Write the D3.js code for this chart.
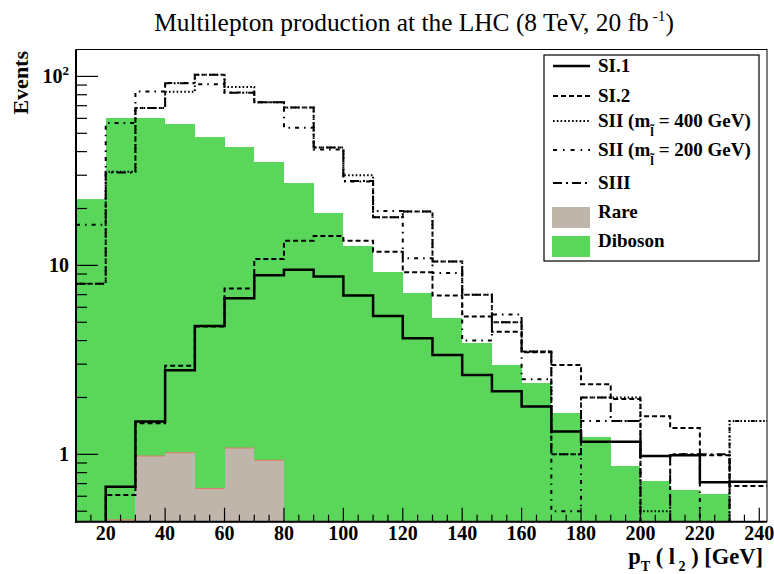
<!DOCTYPE html>
<html><head><meta charset="utf-8">
<script src="https://cdn.jsdelivr.net/npm/d3@7"></script>
<style>body{margin:0;background:#fff;} text{font-family:"Liberation Serif","Times New Roman",serif;}</style>
</head><body>
<script>
// ---- data ----
const binEdges = [10,20,30,40,50,60,70,80,90,100,110,120,130,140,150,160,170,180,190,200,210,220,230,240];
const diboson = [22.5,60.6,60.6,56.2,48,42.4,35.3,27.4,19.0,12.7,9.27,7.18,5.29,3.87,2.97,2.38,1.65,1.24,0.867,0.722,0.647,0.616,0];
const rare    = [0,0.45,0.98,1.02,0.66,1.08,0.93,0,0,0,0,0,0,0,0,0,0,0,0,0,0,0,0];
const si1     = [0,0.674,1.49,2.79,4.78,6.70,8.87,9.47,8.73,6.92,5.40,4.11,3.36,2.63,2.16,1.79,1.32,1.166,1.166,0.98,0.99,0.711,0.716];
const si2     = [0,0.609,1.46,2.94,4.75,7.54,10.8,13.5,14.3,13.5,11.8,9.2,6.92,5.36,4.46,3.47,2.97,2.35,1.96,1.59,1.38,0.99,0.68];
const sii400  = [8.0,31.3,68,83,102,88,73,68.5,42,30,18,19.3,10.5,7.0,5.0,3.5,1.0,2.0,2.0,0.5,0,0,1.5];
const sii200  = [16.4,56.7,83.3,92.3,91,82.3,73,53.5,41,27.8,19.4,10.9,9.1,4.0,5.5,2.5,0.5,1.5,1.5,0,1.0,0,1.5];
const siii    = [8.0,31,68,92,102,82,73,68.5,42,28,18,19.3,10.5,7.0,5.0,3.5,1.0,2.0,1.5,0,1.0,1.0,0];
const xMajorTicks = [20,40,60,80,100,120,140,160,180,200,220,240];
const yMajorTicks = [1,10,100];
const legendLabels = ["SI.1","SI.2","SII (m","SII (m","SIII","Rare","Diboson"];
const legendMass = [null,null,"400","200",null,null,null];

// ---- layout ----
const W=774,H=574;
const L=76,R=767,T=50,B=521.7;
const svg=d3.select("body").append("svg").attr("width",W).attr("height",H);
const x=d3.scaleLinear().domain([10,242.6]).range([L,R]);
const y=d3.scaleLog().domain([0.44,138]).range([B,T]);
const green="#5ad65a", rareCol="#bfb5ab";

svg.append("clipPath").attr("id","plot").append("rect").attr("x",L).attr("y",T).attr("width",R-L).attr("height",B-T);
const g=svg.append("g").attr("clip-path","url(#plot)");

const binX0=i=>x(binEdges[i]);
const binX1=i=>i===binEdges.length-2? R+3 : x(binEdges[i+1]);
const yv=v=>v>0? Math.min(y(v),B+6):B+6;

function drawFill(vals,col,edge){
  g.selectAll(null).data(vals).enter().append("rect")
   .attr("x",(d,i)=>binX0(i)).attr("width",(d,i)=>binX1(i)-binX0(i))
   .attr("y",d=>yv(d)).attr("height",d=>Math.max(0,B+6-yv(d)))
   .attr("fill",col).attr("shape-rendering","crispEdges");
  if(edge){
    g.selectAll(null).data(vals.map((v,i)=>[v,i]).filter(d=>d[0]>0)).enter().append("line")
     .attr("x1",d=>binX0(d[1])).attr("x2",d=>binX1(d[1]))
     .attr("y1",d=>yv(d[0])).attr("y2",d=>yv(d[0])).attr("stroke",edge).attr("stroke-width",1);
  }
}
drawFill(diboson,green,null);
drawFill(rare,rareCol,"#e07a6a");

function stepPath(vals){
  let p="";
  vals.forEach((v,i)=>{
    const yy=yv(v);
    p+=(i===0?"M":"L")+binX0(i)+","+yy+"L"+binX1(i)+","+yy;
  });
  return p;
}
const lineSeries=[
  {vals:sii400,dash:"1.6,2.2",w:2},
  {vals:siii,dash:"9,4,2,4",w:2},
  {vals:sii200,dash:"4,5,1.6,5",w:2},
  {vals:si2,dash:"5,3",w:2},
  {vals:si1,dash:null,w:2.5}
];
lineSeries.forEach(s=>{
  g.append("path").attr("d",stepPath(s.vals)).attr("fill","none").attr("stroke","#000")
   .attr("stroke-width",s.w).attr("stroke-dasharray",s.dash);
});

// ---- frame ----
svg.append("rect").attr("x",L).attr("y",T-0.5).attr("width",R-L).attr("height",B-T+0.5)
  .attr("fill","none").attr("stroke","#000").attr("stroke-width",1);
svg.append("line").attr("x1",L).attr("x2",L).attr("y1",T-0.5).attr("y2",B+1).attr("stroke","#000").attr("stroke-width",2);
svg.append("line").attr("x1",L-1).attr("x2",R).attr("y1",B).attr("y2",B).attr("stroke","#000").attr("stroke-width",2);

// y ticks
const yTicks=[];
[-1,0,1,2].forEach(e=>{for(let k=1;k<=9;k++){const v=k*Math.pow(10,e); if(v>=0.44&&v<=138) yTicks.push({v,major:k===1});}});
svg.selectAll(null).data(yTicks).enter().append("line")
  .attr("x1",L).attr("x2",d=>L+(d.major?22:11)).attr("y1",d=>y(d.v)).attr("y2",d=>y(d.v))
  .attr("stroke","#000").attr("stroke-width",1.2);
const ylab=svg.selectAll(null).data(yMajorTicks).enter().append("text")
  .attr("x",69).attr("y",d=>y(d)+7).attr("text-anchor","end")
  .attr("font-size",20).attr("font-weight","bold");
ylab.each(function(d){
  const t=d3.select(this);
  if(d===100){t.append("tspan").text("10");t.append("tspan").attr("font-size",13).attr("dy",-8).text("2");}
  else t.text(d3.format("d")(d));
});
// x ticks
const xMinor=d3.range(15,242.6,5);
svg.selectAll(null).data(xMinor).enter().append("line")
  .attr("x1",d=>x(d)).attr("x2",d=>x(d)).attr("y1",B).attr("y2",d=>B-(d%20===0?14:7))
  .attr("stroke","#000").attr("stroke-width",1.2);
svg.selectAll(null).data(xMajorTicks).enter().append("text")
  .attr("x",d=>x(d)).attr("y",540).attr("text-anchor","middle")
  .attr("font-size",20).attr("font-weight","bold").text(d=>d);

// axis titles
svg.append("text").attr("transform","translate(28,51) rotate(-90)").attr("text-anchor","end")
  .attr("font-size",22).attr("font-weight","bold").text("Events");
const xt=svg.append("text").attr("x",763).attr("y",564).attr("text-anchor","end")
  .attr("font-size",22.5).attr("font-weight","bold");
xt.append("tspan").text("p");
xt.append("tspan").attr("font-size",14).attr("dy",7).text("T");
xt.append("tspan").attr("dy",-7).text(" ( l");
xt.append("tspan").attr("font-size",14).attr("dy",7).text(" 2");
xt.append("tspan").attr("dy",-7).text(" ) [GeV]");

// title
const tt=svg.append("text").attr("x",414).attr("y",31).attr("text-anchor","middle").attr("font-size",25.4);
tt.append("tspan").text("Multilepton production at the LHC (8 TeV, 20 fb");
tt.append("tspan").attr("font-size",15.5).attr("dy",-10).text(" -1");
tt.append("tspan").attr("dy",10).text(")");

// ---- legend ----
const lg=svg.append("g");
lg.append("rect").attr("x",544).attr("y",55).attr("width",215).attr("height",206)
  .attr("fill","#fff").attr("stroke","#000").attr("stroke-width",1.2);
const rowY=[72,102,127,156,189,218,247];
const legendStyle=[
  {type:"line",dash:null,w:2.5},{type:"line",dash:"5,3",w:2},{type:"line",dash:"1.6,2.2",w:2},
  {type:"line",dash:"4,6,1.6,6",w:2},{type:"line",dash:"9,4,2,4",w:2},
  {type:"box",col:rareCol},{type:"box",col:green}];
legendLabels.forEach((lab,i)=>{
  const st=legendStyle[i], yy=rowY[i];
  if(st.type==="line"){
    lg.append("line").attr("x1",553).attr("x2",590).attr("y1",yy-6).attr("y2",yy-6)
      .attr("stroke","#000").attr("stroke-width",st.w).attr("stroke-dasharray",st.dash);
  } else {
    lg.append("rect").attr("x",552).attr("y",yy-11).attr("width",38).attr("height",21).attr("fill",st.col);
  }
  const t=lg.append("text").attr("x",598).attr("y",yy).attr("font-size",19).attr("font-weight","bold");
  t.append("tspan").text(lab);
  if(legendMass[i]){
    t.append("tspan").attr("font-size",13).attr("dy",9).text("l\u0303");
    t.append("tspan").attr("dy",-9).text(" = "+legendMass[i]+" GeV)");
  }
});
</script>
</body></html>
